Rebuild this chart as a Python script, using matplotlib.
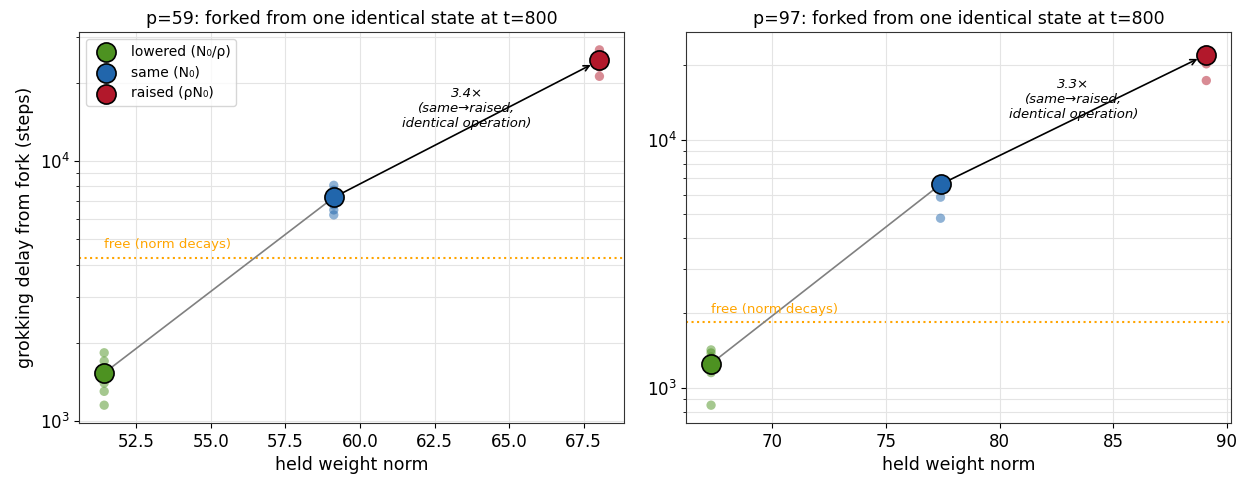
import numpy as np
import matplotlib
matplotlib.use("Agg")
import matplotlib.pyplot as plt

# p=59 panel
p59_norm = {"lowered": 51.42, "same": 59.12, "raised": 68.03}
p59_delay = {"lowered": 1530, "same": 7250, "raised": 24400}
p59_runs = {
    "lowered": [1830, 1700, 1600, 1480, 1400, 1300, 1150],
    "same": [8070, 7730, 6780, 6490, 6210],
    "raised": [26800, 25500, 23000, 21200],
}
p59_free = 4240

# p=97 panel
p97_norm = {"lowered": 67.3, "same": 77.4, "raised": 89.1}
p97_delay = {"lowered": 1250, "same": 6600, "raised": 22000}
p97_runs = {
    "lowered": [1420, 1380, 1330, 1150, 850],
    "same": [6700, 5860, 4820],
    "raised": [23000, 21500, 20200, 17300],
}
p97_free = 1835

conds = ["lowered", "same", "raised"]
labels = ["lowered (N\u2080/\u03c1)", "same (N\u2080)", "raised (\u03c1N\u2080)"]
colors = {"lowered": "#4d9221", "same": "#2166ac", "raised": "#b2182b"}

fig, axes = plt.subplots(1, 2, figsize=(12.41, 4.79), dpi=100)
plt.subplots_adjust(left=0.064, right=0.992, bottom=0.117, top=0.933, wspace=0.114)

panels = [(59, p59_norm, p59_delay, p59_runs, p59_free),
          (97, p97_norm, p97_delay, p97_runs, p97_free)]

for ax, (p, norm, delay, runs, free) in zip(axes, panels):
    # individual seeds
    for c in conds:
        ax.scatter([norm[c]] * len(runs[c]), runs[c], s=45, color=colors[c],
                   alpha=0.5, edgecolors="none", zorder=2)
    # lowered -> same
    ax.plot([norm["lowered"], norm["same"]], [delay["lowered"], delay["same"]],
            color="gray", lw=1.2, zorder=3)
    # same -> raised
    ax.annotate("", xy=(norm["raised"], delay["raised"]),
                xytext=(norm["same"], delay["same"]),
                arrowprops=dict(arrowstyle="->", color="black", lw=1.2,
                                shrinkA=0, shrinkB=7), zorder=3)
    for c, lab in zip(conds, labels):
        ax.scatter([norm[c]], [delay[c]], s=190, color=colors[c],
                   edgecolors="black", linewidths=1.2, zorder=5, label=lab)
    ratio = delay["raised"] / delay["same"]
    mx = (norm["same"] + norm["raised"]) / 2
    my = np.sqrt(delay["same"] * delay["raised"]) * 1.2
    ax.text(mx, my, f"{ratio:.1f}\u00d7\n(same\u2192raised,\nidentical operation)",
            ha="center", va="center", fontsize=9.5, style="italic")
    ax.axhline(free, color="orange", ls=":", lw=1.5, zorder=1)
    ax.set_yscale("log")
    ax.set_title(f"p={p}: forked from one identical state at t=800", fontsize=12.5)
    ax.set_xlabel("held weight norm", fontsize=12.5)
    ax.tick_params(axis="both", which="major", labelsize=12)
    ax.grid(True, which="both", color="#e4e4e4", lw=0.8)
    for s in ax.spines.values():
        s.set_color("#333333")
    ax.text(norm["lowered"], free * 1.06,
            "free (norm decays)", color="orange", fontsize=9.5, va="bottom", ha="left")

axes[0].set_ylabel("grokking delay from fork (steps)", fontsize=12.5)
axes[0].legend(loc="upper left", fontsize=10)

plt.savefig("out.png")
